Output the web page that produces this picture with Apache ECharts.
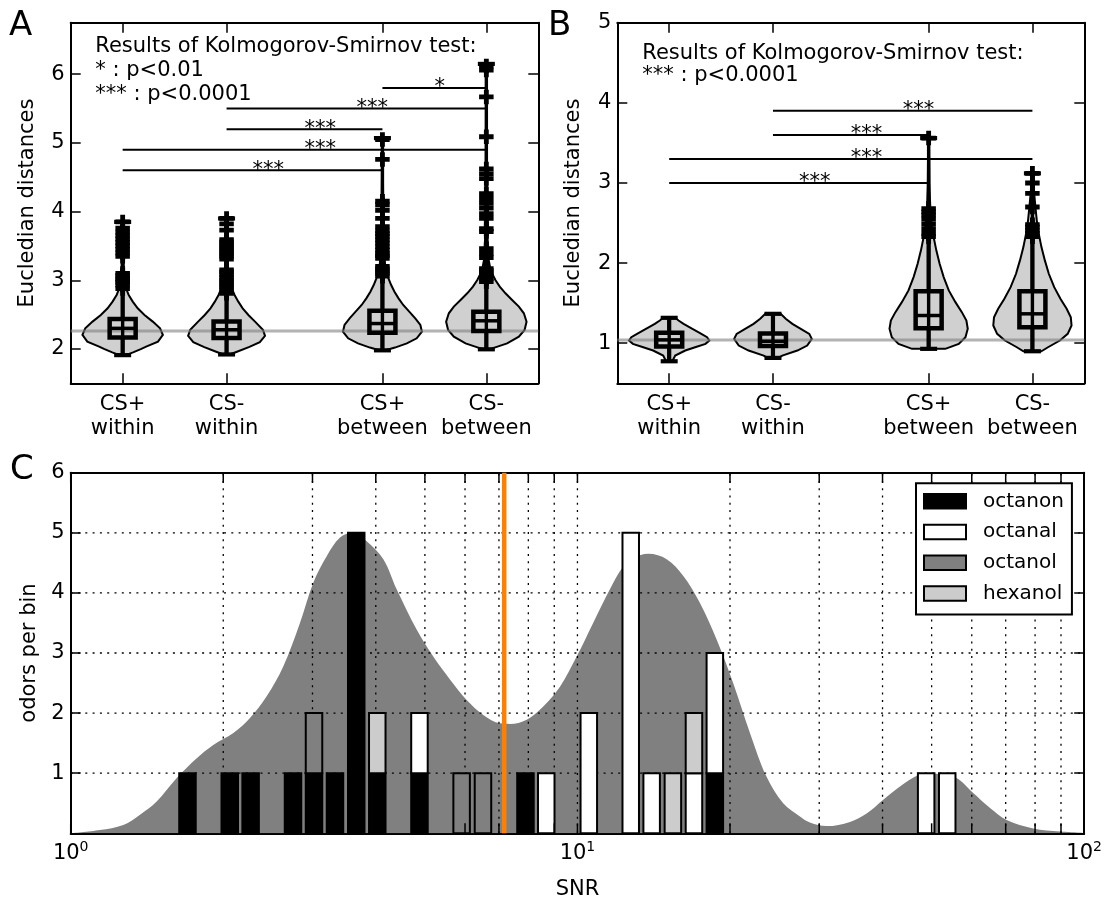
<!DOCTYPE html>
<html><head><meta charset="utf-8">
<script src="https://cdn.jsdelivr.net/npm/echarts@6/dist/echarts.min.js"></script>
<style>html,body{margin:0;padding:0;background:#fff}#chart{width:1105px;height:904px}</style>
</head><body><div id="chart"></div>
<script>
// ---------------- DATA ----------------
// Panels A & B (shared group layout)
const groupPositions = [1, 2, 3.5, 4.5];
const groupLabels = ['CS+\nwithin', 'CS-\nwithin', 'CS+\nbetween', 'CS-\nbetween'];
const yTicksA = [2, 3, 4, 5, 6];
const yTicksB = [1, 2, 3, 4, 5];
const refLineA = 2.262;
const refLineB = 1.04;

// violin profiles: [distance, half-width (in group units)]
const violinA1 = [[1.91,0.03],[1.95,0.1],[2.0,0.18],[2.034,0.226],[2.107,0.34],[2.204,0.387],[2.30,0.36],[2.398,0.29],[2.495,0.21],[2.592,0.145],[2.689,0.097],[2.786,0.058],[2.883,0.032],[2.98,0.02],[3.2,0.01],[3.5,0.007],[3.85,0.004]];
const violinA2 = [[1.92,0.03],[1.96,0.1],[2.03,0.22],[2.1,0.32],[2.19,0.37],[2.28,0.35],[2.398,0.274],[2.495,0.21],[2.592,0.155],[2.689,0.113],[2.786,0.077],[2.883,0.05],[2.98,0.032],[3.077,0.02],[3.2,0.01],[3.5,0.007],[3.9,0.004]];
const violinA3 = [[1.98,0.03],[2.02,0.12],[2.082,0.235],[2.155,0.33],[2.252,0.38],[2.349,0.365],[2.446,0.316],[2.543,0.258],[2.64,0.2],[2.737,0.155],[2.834,0.116],[2.931,0.084],[3.028,0.058],[3.125,0.039],[3.222,0.026],[3.5,0.012],[4.0,0.008],[4.5,0.005],[5.07,0.003]];
const violinA4 = [[1.995,0.03],[2.03,0.1],[2.082,0.2],[2.179,0.313],[2.276,0.368],[2.397,0.387],[2.519,0.361],[2.616,0.313],[2.713,0.248],[2.81,0.184],[2.907,0.129],[3.003,0.087],[3.10,0.055],[3.197,0.035],[3.294,0.023],[3.6,0.012],[4.2,0.008],[5.0,0.004],[6.15,0.002]];
const violinB1 = [[0.775,0.03],[0.846,0.058],[0.909,0.155],[0.95,0.25],[0.992,0.35],[1.034,0.387],[1.075,0.365],[1.117,0.31],[1.159,0.25],[1.2,0.194],[1.242,0.139],[1.284,0.09],[1.317,0.058]];
const violinB2 = [[0.817,0.05],[0.846,0.09],[0.909,0.235],[0.971,0.33],[1.054,0.374],[1.117,0.35],[1.18,0.268],[1.242,0.187],[1.305,0.123],[1.367,0.074]];
const violinB3 = [[0.93,0.16],[0.992,0.29],[1.075,0.355],[1.18,0.377],[1.284,0.364],[1.388,0.32],[1.513,0.258],[1.659,0.194],[1.825,0.145],[1.992,0.106],[2.159,0.074],[2.325,0.048],[2.492,0.029],[2.659,0.016],[3.0,0.008],[3.56,0.004]];
const violinB4 = [[0.90,0.087],[0.95,0.15],[1.034,0.265],[1.117,0.34],[1.221,0.377],[1.325,0.37],[1.43,0.33],[1.555,0.27],[1.70,0.21],[1.867,0.158],[2.034,0.12],[2.2,0.087],[2.367,0.061],[2.534,0.042],[2.70,0.029],[2.9,0.015],[3.12,0.006]];

// box stats: [position, min, Q1, median, Q3, upper whisker, max]
const boxA = [[1, 1.91, 2.165, 2.30, 2.436, 2.86, 3.85],
              [2, 1.92, 2.16, 2.28, 2.40, 2.80, 3.90],
              [3.5, 1.98, 2.237, 2.37, 2.557, 3.05, 5.07],
              [4.5, 1.995, 2.262, 2.41, 2.543, 2.97, 6.15]];
const boxB = [[1, 0.775, 0.959, 1.042, 1.13, 1.317, 1.317],
              [2, 0.817, 0.967, 1.025, 1.121, 1.367, 1.367],
              [3.5, 0.93, 1.188, 1.346, 1.65, 2.3, 3.56],
              [4.5, 0.90, 1.2, 1.367, 1.65, 2.32, 3.12]];

// outliers
const fliersA1 = [2.88, 2.93, 2.97, 3.0, 3.03, 3.07, 3.1, 3.35, 3.4, 3.45, 3.5, 3.55, 3.6, 3.65, 3.7, 3.76, 3.85];
const fliersA2 = [2.81, 2.86, 2.9, 2.93, 2.97, 3.0, 3.04, 3.08, 3.12, 3.15, 3.31, 3.35, 3.38, 3.42, 3.45, 3.49, 3.52, 3.56, 3.59, 3.73, 3.82, 3.9];
const fliersA3 = [3.06, 3.1, 3.13, 3.17, 3.2, 3.32, 3.36, 3.39, 3.44, 3.49, 3.54, 3.59, 3.64, 3.68, 3.72, 3.78, 3.9, 4.02, 4.1, 4.15, 4.76, 5.05];
const fliersA4 = [2.98, 3.03, 3.07, 3.1, 3.14, 3.17, 3.33, 3.39, 3.46, 3.71, 3.75, 3.9, 3.97, 4.05, 4.12, 4.19, 4.26, 4.48, 4.55, 4.62, 5.09, 5.67, 6.06, 6.12];
const fliersB1 = [];
const fliersB2 = [];
const fliersB3 = [2.33, 2.37, 2.43, 2.49, 2.55, 2.6, 2.64, 2.68, 3.56];
const fliersB4 = [2.33, 2.37, 2.41, 2.45, 2.48, 2.7, 2.87, 3.0, 3.12];

// significance bars: [from position, to position, height]
const sigBarsA = [[1, 3.5, 4.6], [1, 4.5, 4.9], [2, 3.5, 5.2], [2, 4.5, 5.5], [3.5, 4.5, 5.8]];
const sigLabelsA = ['***', '***', '***', '***', '*'];
const sigBarsB = [[1, 3.5, 3.0], [1, 4.5, 3.3], [2, 3.5, 3.6], [2, 4.5, 3.9]];
const sigLabelsB = ['***', '***', '***', '***'];
const noteA = 'Results of Kolmogorov-Smirnov test:\n* : p<0.01\n*** : p<0.0001';
const noteB = 'Results of Kolmogorov-Smirnov test:\n*** : p<0.0001';

// Panel C: histogram (log bins) – bin centres (SNR) and counts per odor
const binCenters = [1.70, 2.06, 2.265, 2.746, 3.021, 3.323, 3.66, 4.027, 4.878, 5.908, 6.51, 7.896, 8.679, 10.53, 12.74, 14.01, 15.43, 16.98, 18.67, 48.77, 53.67];
const octanonCounts = [1, 1, 1, 1, 1, 1, 5, 1, 1, 0, 0, 1, 0, 0, 0, 0, 0, 0, 1, 0, 0];
const octanalCounts = [0, 0, 0, 0, 0, 0, 0, 0, 1, 0, 0, 0, 1, 2, 5, 1, 0, 1, 2, 1, 1];
const octanolCounts = [0, 0, 0, 0, 1, 0, 0, 0, 0, 1, 1, 0, 0, 0, 0, 0, 0, 0, 0, 0, 0];
const hexanolCounts = [0, 0, 0, 0, 0, 0, 0, 1, 0, 0, 0, 0, 0, 0, 0, 0, 1, 1, 0, 0, 0];
const odorNames = ['octanon', 'octanal', 'octanol', 'hexanol'];
const odorColors = ['#000000', '#ffffff', '#808080', '#cccccc'];

// density curve (SNR, value)
const kdeSnr = [1.0, 1.142, 1.27, 1.37, 1.478, 1.619, 1.773, 1.911, 2.094, 2.258, 2.436, 2.628, 2.834, 3.011, 3.2, 3.4, 3.6, 3.838, 4.14, 4.398, 4.816, 5.194, 5.603, 6.045, 6.52, 7.033, 7.36, 7.94, 8.561, 9.237, 9.963, 10.74, 11.59, 12.31, 12.89, 13.8, 15.0, 16.18, 17.45, 18.83, 20.29, 21.9, 23.62, 25.47, 27.48, 28.76, 31.03, 34.5, 37.21, 40.13, 43.3, 47.05, 49.5, 52.0, 56.0, 60.4, 65.2, 70.3, 79.3, 89.6, 100];
const kdeDensity = [0.0, 0.055, 0.14, 0.31, 0.53, 0.92, 1.25, 1.47, 1.67, 1.92, 2.28, 2.78, 3.5, 4.17, 4.61, 4.92, 5.0, 4.86, 4.56, 4.06, 3.39, 2.94, 2.56, 2.22, 1.97, 1.83, 1.82, 1.89, 2.11, 2.44, 2.94, 3.5, 4.06, 4.44, 4.58, 4.65, 4.56, 4.28, 3.83, 3.22, 2.5, 1.67, 0.94, 0.5, 0.28, 0.18, 0.12, 0.19, 0.33, 0.56, 0.78, 0.97, 1.0, 0.98, 0.92, 0.67, 0.42, 0.22, 0.08, 0.03, 0.01];
const thresholdSnr = 7.17;
const snrTicks = [1, 2, 3, 4, 5, 6, 7, 8, 9, 10, 20, 30, 40, 50, 60, 70, 80, 90, 100];
const snrGrid = [2, 3, 4, 5, 6, 7, 8, 9, 10, 20, 30, 40, 50, 60, 70, 80, 90];
const countGrid = [1, 2, 3, 4, 5];

// ---------------- CHART ----------------
const FONT = '"DejaVu Sans", sans-serif';
const FS = 21;
const BLACK = '#000';
const violinsA = [violinA1, violinA2, violinA3, violinA4];
const violinsB = [violinB1, violinB2, violinB3, violinB4];
const fliersA = [fliersA1, fliersA2, fliersA3, fliersA4];
const fliersB = [fliersB1, fliersB2, fliersB3, fliersB4];
const odorCounts = [octanonCounts, octanalCounts, octanolCounts, hexanolCounts];
const PLUS = 'path://M0,5H15V10H0Z M5,0H10V15H5Z';

function L(x1, y1, x2, y2, w, dash) {
  return { type: 'line', shape: { x1, y1, x2, y2 }, style: { stroke: BLACK, lineWidth: w, lineDash: dash || null } };
}

function violinSeries(profiles, gi) {
  return {
    type: 'custom', xAxisIndex: gi * 2, yAxisIndex: gi * 2, z: 2, silent: true,
    data: profiles.map((p, i) => [groupPositions[i], p[0][0]]),
    encode: { x: 0, y: 1 },
    renderItem: (params, api) => {
      const prof = profiles[params.dataIndex];
      const pos = groupPositions[params.dataIndex];
      const right = prof.map(([v, w]) => api.coord([pos + w, v]));
      const left = prof.slice().reverse().map(([v, w]) => api.coord([pos - w, v]));
      return { type: 'polygon', shape: { points: right.concat(left) }, style: { fill: '#d0d0d0', stroke: BLACK, lineWidth: 2 } };
    }
  };
}

function refSeries(val, gi) {
  return {
    type: 'custom', xAxisIndex: gi * 2, yAxisIndex: gi * 2, z: 3, silent: true,
    data: [[0.5, val]], encode: { x: 0, y: 1 },
    renderItem: (params, api) => {
      const a = api.coord([0.5, val]), b = api.coord([5, val]);
      return { type: 'line', shape: { x1: a[0], y1: a[1], x2: b[0], y2: b[1] }, style: { stroke: 'rgba(128,128,128,0.6)', lineWidth: 3 } };
    }
  };
}

function boxSeries(stats, gi) {
  return {
    type: 'custom', xAxisIndex: gi * 2, yAxisIndex: gi * 2, z: 4, silent: true,
    data: stats.map(s => [s[0], s[3]]), encode: { x: 0, y: 1 },
    renderItem: (params, api) => {
      const s = stats[params.dataIndex];
      const c = v => api.coord([s[0], v]);
      const pMin = c(s[1]), pQ1 = c(s[2]), pMed = c(s[3]), pQ3 = c(s[4]), pWh = c(s[5]), pMax = c(s[6]);
      const x = pMin[0], hw = 13, cap = 8.5;
      return { type: 'group', children: [
        L(x, pMin[1], x, pMax[1], 3.4),
        L(x, pMin[1], x, pQ1[1], 4.2),
        L(x, pQ3[1], x, pWh[1], 4.2),
        L(x - cap, pMin[1], x + cap, pMin[1], 4.2),
        L(x - cap, pMax[1], x + cap, pMax[1], 4.2),
        { type: 'rect', shape: { x: x - hw, y: pQ3[1], width: 2 * hw, height: pQ1[1] - pQ3[1] }, style: { fill: 'none', stroke: BLACK, lineWidth: 4.5 } },
        L(x - hw, pMed[1], x + hw, pMed[1], 3.5)
      ] };
    }
  };
}

function flierSeries(lists, gi) {
  const data = [];
  lists.forEach((arr, i) => arr.forEach(v => data.push([groupPositions[i], v])));
  return {
    type: 'scatter', xAxisIndex: gi * 2, yAxisIndex: gi * 2, z: 5, silent: true,
    symbol: PLUS, symbolSize: 14.5, itemStyle: { color: BLACK, opacity: 1 }, data
  };
}

function sigSeries(rows, labels, gi) {
  return {
    type: 'custom', xAxisIndex: gi * 2, yAxisIndex: gi * 2, z: 5, silent: true,
    data: rows.map(r => [r[0], r[2]]), encode: { x: 0, y: 1 },
    renderItem: (params, api) => {
      const r = rows[params.dataIndex];
      const a = api.coord([r[0], r[2]]), b = api.coord([r[1], r[2]]), m = api.coord([(r[0] + r[1]) / 2, r[2]]);
      return { type: 'group', children: [
        L(a[0], a[1], b[0], b[1], 2),
        { type: 'text', x: m[0], y: m[1], style: { text: labels[params.dataIndex], font: FS + 'px ' + FONT, fill: BLACK, align: 'left', verticalAlign: 'middle' } }
      ] };
    }
  };
}

function barSeries(k) {
  const data = [];
  binCenters.forEach((c, i) => {
    const cnt = odorCounts[k][i];
    if (!cnt) return;
    let base = 0;
    for (let j = 0; j < k; j++) base += odorCounts[j][i];
    data.push([c, base, base + cnt]);
  });
  return {
    type: 'custom', name: odorNames[k], xAxisIndex: 4, yAxisIndex: 4, z: 4, silent: true,
    itemStyle: { color: odorColors[k], borderColor: BLACK, borderWidth: 2 },
    encode: { x: 0, y: [1, 2] }, data,
    renderItem: (params, api) => {
      const p0 = api.coord([api.value(0), api.value(1)]);
      const p1 = api.coord([api.value(0), api.value(2)]);
      const w = 16.5;
      return { type: 'rect', shape: { x: p0[0] - w / 2, y: p1[1], width: w, height: p0[1] - p1[1] }, style: { fill: odorColors[k], stroke: BLACK, lineWidth: 2 } };
    }
  };
}

const axLine = { show: true, onZero: false, lineStyle: { color: BLACK, width: 2 } };
const tickStyle = { color: BLACK, width: 1.5 };

function groupXAxes(gi) {
  return [
    { type: 'value', gridIndex: gi, position: 'bottom', min: 0.5, max: 5, axisLine: axLine,
      axisTick: { show: true, inside: true, length: 10, lineStyle: tickStyle, customValues: groupPositions },
      axisLabel: { show: true, customValues: groupPositions, formatter: v => groupLabels[groupPositions.indexOf(v)],
        color: BLACK, fontSize: FS, fontFamily: FONT, lineHeight: 24, margin: 9 },
      splitLine: { show: false } },
    { type: 'value', gridIndex: gi, position: 'top', min: 0.5, max: 5, axisLine: axLine,
      axisTick: { show: true, inside: true, length: 10, lineStyle: tickStyle, customValues: groupPositions },
      axisLabel: { show: false }, splitLine: { show: false } }
  ];
}
function groupYAxes(gi, min, max, ticks) {
  return [
    { type: 'value', gridIndex: gi, position: 'left', min, max, axisLine: axLine,
      axisTick: { show: true, inside: true, length: 10, lineStyle: tickStyle, customValues: ticks },
      axisLabel: { show: true, customValues: ticks, color: BLACK, fontSize: FS, fontFamily: FONT, margin: 6 },
      splitLine: { show: false },
      name: 'Eucledian distances', nameLocation: 'middle', nameGap: 33,
      nameTextStyle: { color: BLACK, fontSize: FS, fontFamily: FONT } },
    { type: 'value', gridIndex: gi, position: 'right', min, max, axisLine: axLine,
      axisTick: { show: true, inside: true, length: 10, lineStyle: tickStyle, customValues: ticks },
      axisLabel: { show: false }, splitLine: { show: false } }
  ];
}

const option = {
  animation: false,
  backgroundColor: '#fff',
  textStyle: { fontFamily: FONT },
  grid: [
    { left: 70.7, top: 22.7, width: 467.6, height: 360.6 },
    { left: 617.3, top: 22.7, width: 467, height: 360.6 },
    { left: 70.7, top: 472.7, width: 1013.6, height: 360.6 }
  ],
  xAxis: [
    ...groupXAxes(0), ...groupXAxes(1),
    { type: 'log', logBase: 10, gridIndex: 2, position: 'bottom', min: 1, max: 100, axisLine: axLine,
      axisTick: { show: false },
      axisLabel: { color: BLACK, margin: 7,
        formatter: v => '{b|10}{s|' + Math.round(Math.log10(v)) + '}',
        rich: { b: { fontSize: FS, fontFamily: FONT, color: BLACK, lineHeight: 24, verticalAlign: 'bottom' },
                s: { fontSize: 14, fontFamily: FONT, color: BLACK, lineHeight: 14, verticalAlign: 'top' } } },
      splitLine: { show: false }, minorTick: { show: false },
      name: 'SNR', nameLocation: 'middle', nameGap: 46,
      nameTextStyle: { color: BLACK, fontSize: FS, fontFamily: FONT } },
    { type: 'log', logBase: 10, gridIndex: 2, position: 'top', min: 1, max: 100, axisLine: axLine,
      axisTick: { show: false }, axisLabel: { show: false }, splitLine: { show: false } }
  ],
  yAxis: [
    ...groupYAxes(0, 1.5, 6.75, yTicksA), ...groupYAxes(1, 0.5, 5, yTicksB),
    { type: 'value', gridIndex: 2, position: 'left', min: 0, max: 6, interval: 1, axisLine: axLine,
      axisTick: { show: true, inside: true, length: 10, lineStyle: tickStyle },
      axisLabel: { color: BLACK, fontSize: FS, fontFamily: FONT, margin: 6, formatter: v => v === 0 ? '' : String(v) },
      splitLine: { show: false },
      name: 'odors per bin', nameLocation: 'middle', nameGap: 31,
      nameTextStyle: { color: BLACK, fontSize: FS, fontFamily: FONT } },
    { type: 'value', gridIndex: 2, position: 'right', min: 0, max: 6, interval: 1, axisLine: axLine,
      axisTick: { show: true, inside: true, length: 10, lineStyle: tickStyle },
      axisLabel: { show: false }, splitLine: { show: false } }
  ],
  legend: {
    orient: 'vertical', left: 916, top: 483.3,
    itemWidth: 42, itemHeight: 14.5, itemGap: 10.7,
    backgroundColor: '#fff', borderColor: BLACK, borderWidth: 2, borderRadius: 0,
    padding: [8, 8, 11, 7], selectedMode: false,
    textStyle: { fontSize: 20, color: BLACK, fontFamily: FONT, padding: [0, 0, 0, 12] },
    data: odorNames.map((n, k) => ({ name: n, icon: 'rect', itemStyle: { color: odorColors[k], borderColor: BLACK, borderWidth: 2 } }))
  },
  graphic: [
    { type: 'text', x: 9, y: 9, style: { text: 'A', font: '34px ' + FONT, fill: BLACK, verticalAlign: 'top', lineHeight: 34 } },
    { type: 'text', x: 548, y: 9, style: { text: 'B', font: '34px ' + FONT, fill: BLACK, verticalAlign: 'top', lineHeight: 34 } },
    { type: 'text', x: 10, y: 453, style: { text: 'C', font: '34px ' + FONT, fill: BLACK, verticalAlign: 'top', lineHeight: 34 } },
    { type: 'text', x: 95.3, y: 35, z: 10, style: { text: noteA, font: FS + 'px ' + FONT, fill: BLACK, verticalAlign: 'top', lineHeight: 23.7 } },
    { type: 'text', x: 642.3, y: 42, z: 10, style: { text: noteB, font: FS + 'px ' + FONT, fill: BLACK, verticalAlign: 'top', lineHeight: 22.6 } }
  ],
  series: [
    violinSeries(violinsA, 0), refSeries(refLineA, 0), boxSeries(boxA, 0), flierSeries(fliersA, 0), sigSeries(sigBarsA, sigLabelsA, 0),
    violinSeries(violinsB, 1), refSeries(refLineB, 1), boxSeries(boxB, 1), flierSeries(fliersB, 1), sigSeries(sigBarsB, sigLabelsB, 1),
    { type: 'line', xAxisIndex: 4, yAxisIndex: 4, z: 1, silent: true, smooth: 0.35, showSymbol: false, symbol: 'none',
      data: kdeSnr.map((s, i) => [s, kdeDensity[i]]),
      lineStyle: { width: 0, color: '#808080' }, areaStyle: { color: '#808080', opacity: 1 } },
    { type: 'custom', xAxisIndex: 4, yAxisIndex: 4, z: 2, silent: true,
      data: snrGrid.map(v => [v, 0]), encode: { x: 0, y: 1 },
      renderItem: (params, api) => {
        const a = api.coord([api.value(0), 0]), b = api.coord([api.value(0), 6]);
        return L(a[0], a[1], b[0], b[1], 1.3, [2, 5.3]);
      } },
    { type: 'custom', xAxisIndex: 4, yAxisIndex: 4, z: 2, silent: true,
      data: countGrid.map(v => [1, v]), encode: { x: 0, y: 1 },
      renderItem: (params, api) => {
        const a = api.coord([1, api.value(1)]), b = api.coord([100, api.value(1)]);
        return L(a[0], a[1], b[0], b[1], 1.3, [2, 5.3]);
      } },
    barSeries(0), barSeries(1), barSeries(2), barSeries(3),
    { type: 'custom', xAxisIndex: 4, yAxisIndex: 4, z: 5, silent: true,
      data: [[thresholdSnr, 0]], encode: { x: 0, y: 1 },
      renderItem: (params, api) => {
        const a = api.coord([thresholdSnr, 0]), b = api.coord([thresholdSnr, 6]);
        return { type: 'line', shape: { x1: a[0], y1: a[1], x2: b[0], y2: b[1] }, style: { stroke: '#ff7f00', lineWidth: 4.5 } };
      } },
    { type: 'custom', xAxisIndex: 4, yAxisIndex: 4, z: 6, silent: true,
      data: snrTicks.map(v => [v, 0]), encode: { x: 0, y: 1 },
      renderItem: (params, api) => {
        const a = api.coord([api.value(0), 0]), b = api.coord([api.value(0), 6]);
        return { type: 'group', children: [
          { type: 'line', shape: { x1: a[0], y1: a[1], x2: a[0], y2: a[1] - 10 }, style: { stroke: BLACK, lineWidth: 1.5 } },
          { type: 'line', shape: { x1: b[0], y1: b[1], x2: b[0], y2: b[1] + 10 }, style: { stroke: BLACK, lineWidth: 1.5 } }
        ] };
      } }
  ]
};

const chart = echarts.init(document.getElementById('chart'), null, { renderer: 'canvas', width: 1105, height: 904 });
chart.setOption(option);
</script>
</body></html>
